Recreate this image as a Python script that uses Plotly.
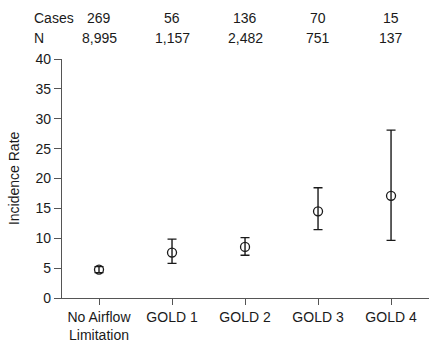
import plotly.graph_objects as go

categories = ["No Airflow<br>Limitation", "GOLD 1", "GOLD 2", "GOLD 3", "GOLD 4"]
rate = [4.75, 7.6, 8.55, 14.5, 17.1]
ci_low = [4.25, 5.8, 7.15, 11.45, 9.65]
ci_high = [5.25, 9.85, 10.1, 18.45, 28.1]
cases = ["269", "56", "136", "70", "15"]
n_vals = ["8,995", "1,157", "2,482", "751", "137"]
y_ticks = [0, 5, 10, 15, 20, 25, 30, 35, 40]

xs = list(range(len(categories)))
err_plus = [h - r for h, r in zip(ci_high, rate)]
err_minus = [r - l for r, l in zip(rate, ci_low)]

FONT = "Liberation Sans, Arial, Helvetica, sans-serif"
TXT = "#1a1a1a"
AX = "#555"
fig = go.Figure()
fig.add_trace(go.Scatter(
    x=xs, y=rate, mode="markers",
    marker=dict(symbol="circle-open", size=9, color=TXT, line=dict(width=1.3, color=TXT)),
    error_y=dict(type="data", symmetric=False, array=err_plus, arrayminus=err_minus,
                 color=TXT, thickness=1.4, width=4.5),
    showlegend=False,
))

fig.update_layout(
    width=429, height=345,
    margin=dict(l=62, r=0, t=59, b=47),
    paper_bgcolor="white", plot_bgcolor="white",
    font=dict(family=FONT, size=14, color=TXT),
    xaxis=dict(
        range=[-0.507, 4.52], tickmode="array", tickvals=xs, ticktext=categories,
        showgrid=False, zeroline=False, showline=True, linecolor=AX, linewidth=1.4,
        ticks="outside", ticklen=6, tickcolor=AX, tickwidth=1.4,
        tickfont=dict(size=14, color=TXT), automargin=False,
    ),
    yaxis=dict(
        range=[0, 40], tickmode="array", tickvals=y_ticks,
        showgrid=False, zeroline=False, showline=True, linecolor=AX, linewidth=1.4,
        ticks="outside", ticklen=7, tickcolor=AX, tickwidth=1.4,
        tickfont=dict(size=14, color=TXT), automargin=False,
    ),
)

annos = []
annos.append(dict(text="Incidence Rate", xref="paper", x=-0.132, xanchor="center",
                  yref="paper", y=0.5, yanchor="middle", textangle=-90, showarrow=False,
                  font=dict(size=14, color=TXT)))
annos.append(dict(text="Cases", xref="paper", x=-0.081, xanchor="left",
                  yref="paper", y=1.17, yanchor="middle", showarrow=False,
                  font=dict(size=14, color=TXT)))
annos.append(dict(text="N", xref="paper", x=-0.081, xanchor="left",
                  yref="paper", y=1.088, yanchor="middle", showarrow=False,
                  font=dict(size=14, color=TXT)))
for i, (c, nv) in enumerate(zip(cases, n_vals)):
    annos.append(dict(text=c, xref="x", x=xs[i], xanchor="center",
                      yref="paper", y=1.17, yanchor="middle", showarrow=False,
                      font=dict(size=14, color=TXT)))
    annos.append(dict(text=nv, xref="x", x=xs[i], xanchor="center",
                      yref="paper", y=1.088, yanchor="middle", showarrow=False,
                      font=dict(size=14, color=TXT)))
fig.update_layout(annotations=annos)

fig.write_html("out.html", config={"displayModeBar": False},
               post_script="document.body.style.margin='0';document.body.style.overflow='hidden';")
